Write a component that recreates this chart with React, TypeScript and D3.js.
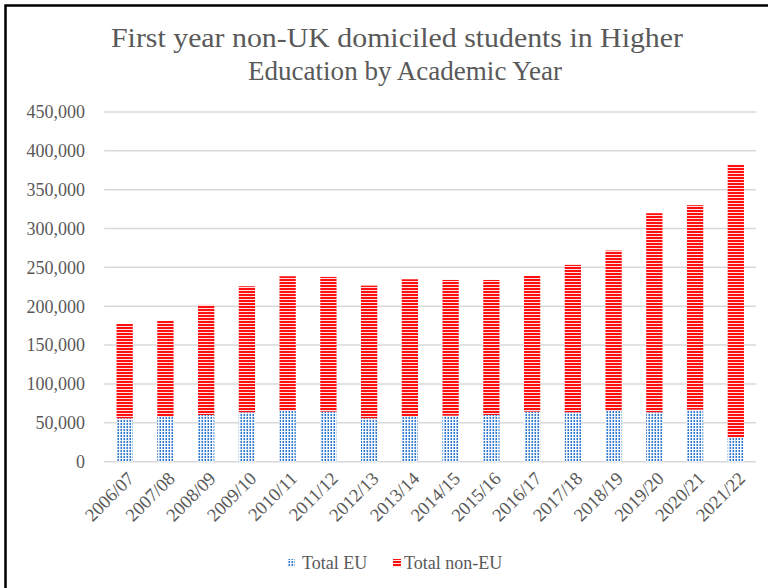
import React from "react";
import * as d3 from "d3";

const years = ["2006/07","2007/08","2008/09","2009/10","2010/11","2011/12","2012/13","2013/14","2014/15","2015/16","2016/17","2017/18","2018/19","2019/20","2020/21","2021/22"];
const totalEU = [55800, 57900, 60100, 63600, 65600, 64400, 55900, 57900, 59200, 60100, 64400, 63600, 65300, 63600, 66900, 31400];
const totalNonEU = [121400, 123200, 141600, 162100, 173000, 173300, 170600, 176800, 174600, 173700, 174600, 189600, 206300, 256100, 263100, 350500];
const yTicks = [0, 50000, 100000, 150000, 200000, 250000, 300000, 350000, 400000, 450000];
const seriesNames = ["Total EU", "Total non-EU"];
const titleLines = ["First year non-UK domiciled students in Higher", "Education by Academic Year"];

const FONT = "'Liberation Serif', 'Times New Roman', serif";
const GREY = "#595959";

export default function App() {
  const x = d3.scaleBand<string>().domain(years).range([104.3, 756.2]).paddingInner(0.6).paddingOuter(0.3);
  const y = d3.scaleLinear().domain([0, 450000]).range([461.7, 111.9]);
  const fmt = d3.format(",");
  const stacked = years.map((yr, i) => ({ yr, eu: totalEU[i], non: totalNonEU[i] }));
  const titleX = [397, 405];
  const titleLen = [572, 314];

  return (
    <svg width={768} height={588} style={{ position: "absolute", left: 0, top: 0, background: "#fff" }}>
      <defs>
        <pattern id="euPat" width={3} height={3} patternUnits="userSpaceOnUse">
          <rect width={3} height={3} fill="#f4f8fd" />
          <rect x={0.5} y={0} width={1.5} height={2} fill="#2f78d0" />
        </pattern>
        <pattern id="nonPat" width={3} height={3} patternUnits="userSpaceOnUse">
          <rect width={3} height={3} fill="#ffe0e0" />
          <rect x={0} y={0} width={3} height={2} fill="#ff1010" />
        </pattern>
      </defs>
      <rect x={5.5} y={5.5} width={800} height={600} fill="#fff" stroke="#000" strokeWidth={2.5} />
      {titleLines.map((t, i) => (
        <text key={t} x={titleX[i]} y={47 + i * 33} textAnchor="middle" fontFamily={FONT} fontSize={28} fill={GREY}
          textLength={titleLen[i]} lengthAdjust="spacingAndGlyphs">{t}</text>
      ))}
      {yTicks.map((v) => (
        <g key={v}>
          <line x1={104.3} x2={756.2} y1={y(v)} y2={y(v)} stroke="#d9d9d9" strokeWidth={1.5} />
          <text x={85} y={y(v)} dy="0.35em" textAnchor="end" fontFamily={FONT} fontSize={18} fill={GREY}>{fmt(v)}</text>
        </g>
      ))}
      {stacked.map((d) => (
        <g key={d.yr}>
          <rect x={x(d.yr)} y={y(d.eu)} width={x.bandwidth()} height={y(0) - y(d.eu)} fill="url(#euPat)" />
          <rect x={x(d.yr)} y={y(d.eu + d.non)} width={x.bandwidth()} height={y(d.eu) - y(d.eu + d.non)} fill="url(#nonPat)" />
        </g>
      ))}
      {years.map((yr) => {
        const cx = (x(yr) as number) + x.bandwidth() / 2;
        return (
          <text key={yr} transform={`translate(${cx + 6},${475}) rotate(-45)`} textAnchor="end" dy="0.35em" fontFamily={FONT} fontSize={18.5} fill={GREY}>{yr}</text>
        );
      })}
      <rect x={287} y={559} width={8} height={8} fill="url(#euPat)" />
      <text x={302} y={569} fontFamily={FONT} fontSize={18} fill={GREY}>{seriesNames[0]}</text>
      <rect x={393} y={559} width={8} height={8} fill="url(#nonPat)" />
      <text x={404} y={569} fontFamily={FONT} fontSize={18} fill={GREY}>{seriesNames[1]}</text>
    </svg>
  );
}
